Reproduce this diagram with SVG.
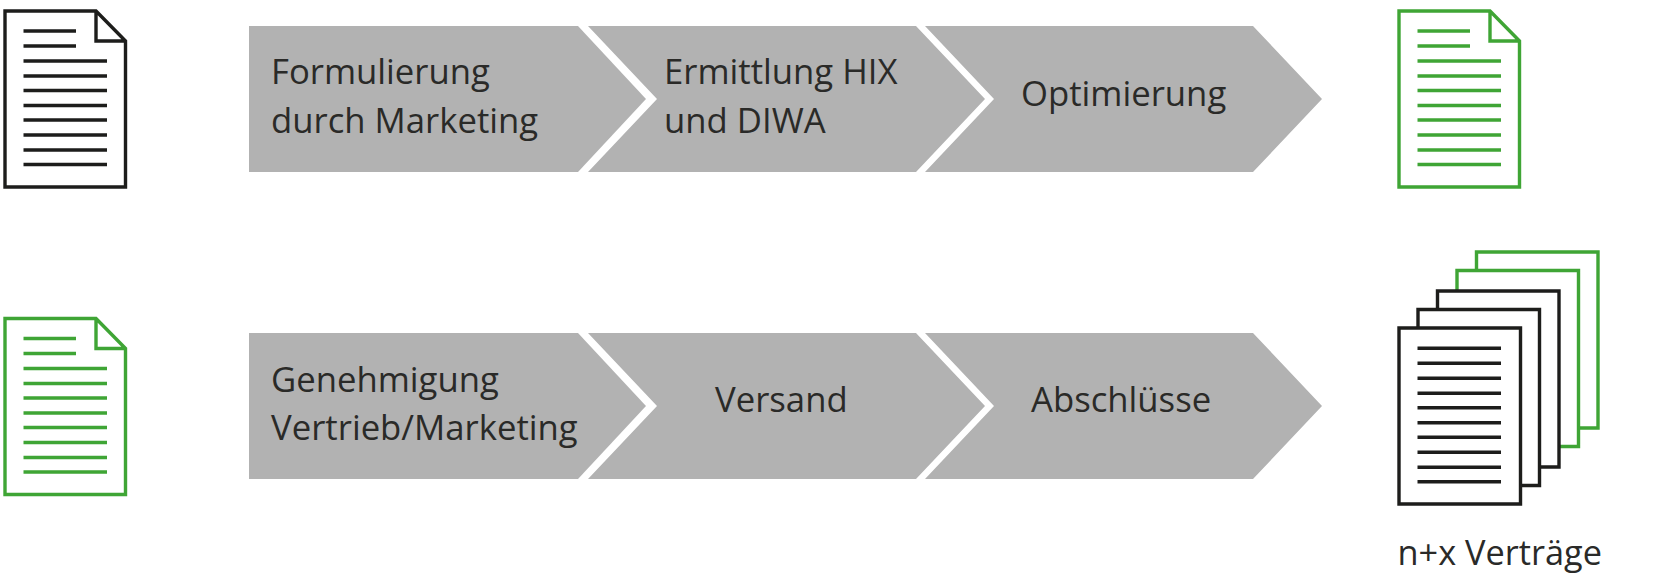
<svg xmlns="http://www.w3.org/2000/svg" width="1680" height="588" viewBox="0 0 1680 588">
<style>
.c{fill:#b2b2b2}
.t{font-family:"Open Sans","Noto Sans",sans-serif;font-size:34.7px;fill:#2a2a28}
.d{fill:#fff;stroke-width:3.4}
.l{fill:none;stroke-width:3.4}
.k{stroke:#1d1d1b}
.g{stroke:#3fa535}
</style>
<defs>
<path id="lines" class="l" d="M23.5 31H76M23.5 46H76M23.5 61H107M23.5 76H107M23.5 90.5H107M23.5 105.500H107M23.5 120H107M23.5 135H107M23.5 150H107M23.5 164.500H107"/>
<path id="lines10" class="l" d="M0 0H83.500M0 15H83.500M0 30H83.500M0 45H83.500M0 59.500H83.500M0 74.500H83.500M0 89H83.500M0 104H83.500M0 119H83.500M0 133.500H83.500"/>
<path id="doc" class="d" d="M5 11H96L125.5 41V187H5ZM96 11V41H125.5"/>
<path id="page" class="d" d="M0 0H121.500V176H0Z"/>
<path id="c1" class="c" d="M0 0H329L397 73L329 146H0Z"/>
<path id="c2" class="c" d="M0 0H328L397 73L328 146H0L69 73Z"/>
</defs>
<g id="doc-source"><use href="#doc" class="k"/><use href="#lines" class="k"/></g>
<g id="doc-optimised"><use href="#doc" x="1394" class="g"/><use href="#lines" x="1394" class="g"/></g>
<g id="doc-approved"><use href="#doc" y="307.500" class="g"/><use href="#lines" y="307.500" class="g"/></g>
<g id="step-formulierung"><use href="#c1" x="249" y="26"/><text class="t" x="271" y="84">Formulierung</text><text class="t" x="271" y="133">durch Marketing</text></g>
<g id="step-ermittlung"><use href="#c2" x="588" y="26"/><text class="t" x="664" y="84">Ermittlung HIX</text><text class="t" x="664" y="133">und DIWA</text></g>
<g id="step-optimierung"><use href="#c2" x="925" y="26"/><text class="t" x="1021" y="105.500">Optimierung</text></g>
<g id="step-genehmigung"><use href="#c1" x="249" y="333"/><text class="t" x="271" y="392">Genehmigung</text><text class="t" x="271" y="440">Vertrieb/Marketing</text></g>
<g id="step-versand"><use href="#c2" x="588" y="333"/><text class="t" x="715" y="412">Versand</text></g>
<g id="step-abschluesse"><use href="#c2" x="925" y="333"/><text class="t" x="1031" y="412">Abschlüsse</text></g>
<g id="contracts">
<use href="#page" x="1476.500" y="252" class="g"/>
<use href="#page" x="1457" y="270.500" class="g"/>
<use href="#page" x="1437.500" y="291" class="k"/>
<use href="#page" x="1418" y="309.500" class="k"/>
<use href="#page" x="1399" y="328" class="k"/>
<use href="#lines10" x="1417.500" y="348.300" class="k"/>
<text class="t" x="1397.500" y="565" style="font-size:34.3px">n+x Verträge</text>
</g>
<g id="connectors"/>
</svg>
